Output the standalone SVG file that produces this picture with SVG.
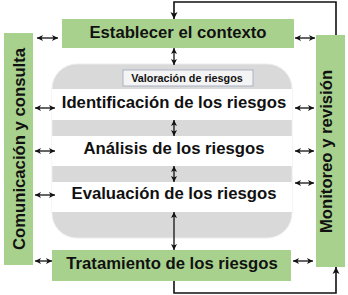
<svg xmlns="http://www.w3.org/2000/svg" width="348" height="295" viewBox="0 0 348 295">
<defs>
<style>
.box{fill:#a9d18e;}
.t{font-family:"Liberation Sans",Arial,sans-serif;font-weight:bold;font-size:16.7px;fill:#111;text-anchor:middle;}
.ts{font-family:"Liberation Sans",Arial,sans-serif;font-weight:bold;font-size:10.8px;fill:#111;text-anchor:middle;}
.da{fill:none;stroke:#111;stroke-width:1.3;marker-start:url(#ah);marker-end:url(#ah);}
.loop{fill:none;stroke:#111;stroke-width:1.6;marker-end:url(#ah2);}
</style>
<marker id="ah" markerUnits="userSpaceOnUse" markerWidth="8" markerHeight="8" refX="6" refY="3" orient="auto-start-reverse" viewBox="0 0 8 8" overflow="visible">
<path d="M0,0 L6,3 L0,6 L1.6,3 Z" fill="#111"/>
</marker>
<marker id="ah2" markerUnits="userSpaceOnUse" markerWidth="8" markerHeight="8" refX="7" refY="3.5" orient="auto" viewBox="0 0 8 8" overflow="visible">
<path d="M0,0 L7,3.5 L0,7 L1.8,3.5 Z" fill="#111"/>
</marker>
</defs>
<rect width="348" height="295" fill="#ffffff"/>

<g id="valoracion">
<rect x="52" y="64" width="240" height="174" rx="25" ry="25" fill="#d9d9d9" stroke="#ececec" stroke-width="1"/>
<rect x="123" y="70" width="130" height="16" fill="#f4f4f4" stroke="#aab4c4" stroke-width="1"/>
<text class="ts" x="187" y="82">Valoración de riesgos</text>
</g>
<g id="identificacion">
<rect x="52" y="89" width="240" height="31" fill="#ffffff"/>
<text class="t" x="174" y="108">Identificación de los riesgos</text>
</g>
<g id="analisis">
<rect x="52" y="136" width="240" height="30" fill="#ffffff"/>
<text class="t" x="174" y="154">Análisis de los riesgos</text>
</g>
<g id="evaluacion">
<rect x="52" y="182" width="240" height="30" fill="#ffffff"/>
<text class="t" x="174" y="199">Evaluación de los riesgos</text>
</g>

<g id="contexto">
<rect class="box" x="62" y="19" width="232" height="29"/>
<text class="t" x="178" y="38">Establecer el contexto</text>
</g>
<g id="comunicacion">
<rect class="box" x="4" y="33" width="29" height="232"/>
<text class="t" transform="translate(24.5,149) rotate(-90)" x="0" y="0">Comunicación y consulta</text>
</g>
<g id="monitoreo">
<rect class="box" x="316" y="35" width="29" height="232"/>
<text class="t" transform="translate(332,151.5) rotate(-90)" x="0" y="0">Monitoreo y revisión</text>
</g>
<g id="tratamiento">
<rect class="box" x="52" y="250" width="239" height="31"/>
<text class="t" x="172" y="269">Tratamiento de los riesgos</text>
</g>

<g id="connectors">
<path class="loop" d="M336,35 V2 H174 V19"/>
<path class="loop" d="M174,281 V293 H336 V267"/>
<line class="da" x1="174" y1="48" x2="174" y2="65"/>
<line class="da" x1="174" y1="120" x2="174" y2="136"/>
<line class="da" x1="174" y1="166" x2="174" y2="182"/>
<line class="da" x1="174" y1="212" x2="174" y2="250"/>
<line class="da" x1="37" y1="38" x2="58" y2="38"/>
<line class="da" x1="35" y1="108" x2="55" y2="108"/>
<line class="da" x1="35" y1="151" x2="55" y2="151"/>
<line class="da" x1="35" y1="195" x2="55" y2="195"/>
<line class="da" x1="35" y1="261" x2="52" y2="261"/>
<line class="da" x1="295" y1="38" x2="315" y2="38"/>
<line class="da" x1="295" y1="108" x2="314" y2="108"/>
<line class="da" x1="295" y1="151" x2="314" y2="151"/>
<line class="da" x1="295" y1="183" x2="314" y2="183"/>
<line class="da" x1="293" y1="261" x2="313" y2="261"/>
</g>
</svg>
